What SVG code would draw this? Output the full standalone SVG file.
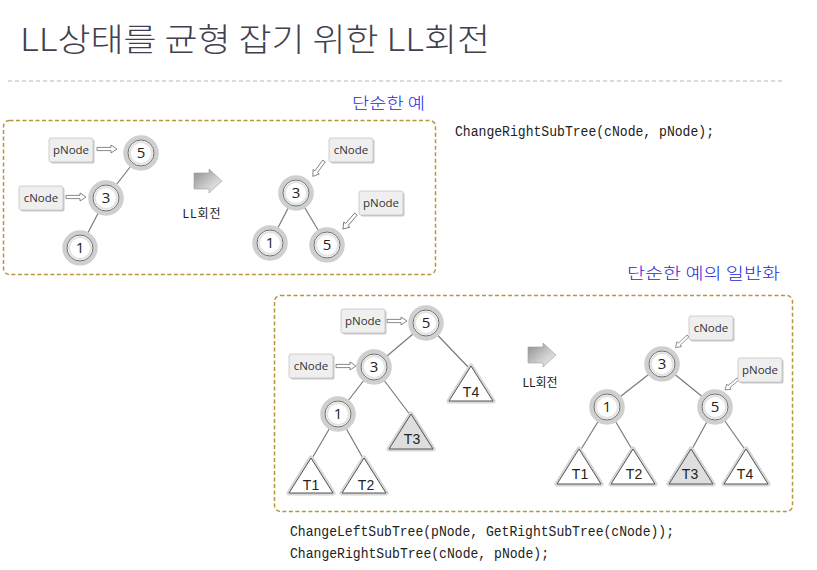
<svg xmlns="http://www.w3.org/2000/svg" xmlns:xlink="http://www.w3.org/1999/xlink" width="817" height="570" viewBox="0 0 817 570">
<style>
.title{font-family:"Noto Sans CJK KR","Noto Sans",sans-serif;font-size:32px;fill:#40404e;font-weight:300}
.blue{font-family:"Noto Sans CJK KR",sans-serif;font-size:16px;fill:#2a2ad8;font-weight:300}
.code{font-family:"Liberation Mono","DejaVu Sans Mono",monospace;font-size:14px;fill:#222}
.frame{fill:none;stroke:#b8963a;stroke-width:1.5;stroke-dasharray:4 2.5}
.edge{stroke:#7a7a7a;stroke-width:1.2;fill:none}
.halo{fill:#fff;stroke:#cfcfcf;stroke-width:4.5}
.nd{fill:#fff;stroke:#6e6e6e;stroke-width:1}
.ndi{fill:none;stroke:#e3e3e3;stroke-width:2}
.nt{font-family:"Open Sans","Liberation Sans",sans-serif;font-size:15px;fill:#222;text-anchor:middle}
.lt{font-family:"Open Sans","Liberation Sans",sans-serif;font-size:11.5px;fill:#333;text-anchor:middle}
.tt{font-family:"Liberation Sans",Arial,sans-serif;font-size:14px;fill:#222;text-anchor:middle}
.rt{font-family:"Noto Sans CJK KR",sans-serif;font-size:12px;fill:#222;text-anchor:middle}
.arr{fill:#fff;stroke:#6a6a6a;stroke-width:0.8;stroke-linejoin:miter}
.thalo{fill:none;stroke:#d6d6d6;stroke-width:5;stroke-linejoin:round}
.tri{fill:#fff;stroke:#555;stroke-width:1;stroke-linejoin:round}
.trig{fill:#dedede;stroke:#555;stroke-width:1;stroke-linejoin:round}
</style>
<defs>
<g id="circ">
<circle r="15.5" class="halo"/>
<circle r="13" class="nd"/>
<circle r="11" class="ndi"/>
</g>
<g id="lbl">
<rect x="-20.5" y="-10.5" width="44" height="24" rx="2" fill="#c8c8c8"/>
<rect x="-22" y="-12" width="44" height="24" rx="2" fill="#efefef" stroke="#c4c4c4" stroke-width="0.8"/>
</g>
<path id="dar" class="arr" d="M0,-1.6 L14,-1.6 L14,-4 L20,0 L14,4 L14,1.6 L0,1.6 Z"/>
<path id="tshape" d="M0,-18 L22,17 L-22,17 Z"/>
<linearGradient id="bg" x1="0" y1="0" x2="1" y2="1">
<stop offset="0" stop-color="#8c8c8c"/>
<stop offset="0.6" stop-color="#d0d0d0"/>
<stop offset="1" stop-color="#f0f0f0"/>
</linearGradient>
<path id="block" d="M0,-8 L15,-8 L15,-12 L28,0 L15,12 L15,8 L0,8 Z" fill="url(#bg)" stroke="#9a9a9a" stroke-width="0.6"/>
</defs>

<rect width="817" height="570" fill="#fff"/>

<g id="title">
<text class="title" x="20" y="51" textLength="470" lengthAdjust="spacingAndGlyphs">LL상태를 균형 잡기 위한 LL회전</text>
<line x1="8" y1="81" x2="782" y2="81" stroke="#a8b8c8" stroke-width="1" stroke-dasharray="4 3"/>
</g>

<g id="caption1"><text class="blue" x="352" y="109" textLength="73" lengthAdjust="spacingAndGlyphs">단순한 예</text></g>
<g id="caption2"><text class="blue" x="627" y="279" textLength="153" lengthAdjust="spacingAndGlyphs">단순한 예의 일반화</text></g>

<g id="code1"><text class="code" x="455" y="136" textLength="259" lengthAdjust="spacingAndGlyphs">ChangeRightSubTree(cNode, pNode);</text></g>
<g id="code2">
<text class="code" x="290" y="536" textLength="384" lengthAdjust="spacingAndGlyphs">ChangeLeftSubTree(pNode, GetRightSubTree(cNode));</text>
<text class="code" x="290" y="558" textLength="259" lengthAdjust="spacingAndGlyphs">ChangeRightSubTree(cNode, pNode);</text>
</g>

<g id="frame1"><rect class="frame" x="3.5" y="120.5" width="432" height="154" rx="6"/></g>
<g id="frame2"><rect class="frame" x="274.5" y="295.5" width="518" height="216" rx="6"/></g>

<g id="connectors">
<line class="edge" x1="141" y1="153" x2="106" y2="198"/>
<line class="edge" x1="106" y1="198" x2="80" y2="248"/>
<line class="edge" x1="296" y1="193" x2="270" y2="243"/>
<line class="edge" x1="296" y1="193" x2="327" y2="245"/>
<line class="edge" x1="426" y1="323" x2="374" y2="367"/>
<line class="edge" x1="426" y1="323" x2="469" y2="368"/>
<line class="edge" x1="374" y1="367" x2="338" y2="414"/>
<line class="edge" x1="374" y1="367" x2="411" y2="416"/>
<line class="edge" x1="338" y1="414" x2="311" y2="460"/>
<line class="edge" x1="338" y1="414" x2="364" y2="460"/>
<line class="edge" x1="662" y1="364" x2="607" y2="407"/>
<line class="edge" x1="662" y1="364" x2="715" y2="407"/>
<line class="edge" x1="607" y1="407" x2="580" y2="451"/>
<line class="edge" x1="607" y1="407" x2="633" y2="451"/>
<line class="edge" x1="715" y1="407" x2="691" y2="451"/>
<line class="edge" x1="715" y1="407" x2="746" y2="451"/>
<use href="#dar" transform="translate(97,149)"/>
<use href="#dar" transform="translate(66,197)"/>
<use href="#dar" transform="translate(324,161) rotate(126) scale(0.95)"/>
<use href="#dar" transform="translate(356,214) rotate(131)"/>
<use href="#dar" transform="translate(387,321)"/>
<use href="#dar" transform="translate(336,366)"/>
<use href="#dar" transform="translate(688,336) rotate(137) scale(0.85)"/>
<use href="#dar" transform="translate(738,379) rotate(140) scale(0.85)"/>
</g>

<g id="rot1"><use href="#block" x="194" y="181"/><text class="rt" x="202" y="218" letter-spacing="1">LL회전</text></g>
<g id="rot2"><use href="#block" x="528" y="355"/><text class="rt" x="540" y="387">LL회전</text></g>

<!-- box 1 left -->
<g id="a_pNode"><use href="#lbl" x="71" y="150"/><text class="lt" x="71" y="154">pNode</text></g>
<g id="a_cNode"><use href="#lbl" x="41" y="198"/><text class="lt" x="41" y="202">cNode</text></g>
<g id="a_n5"><use href="#circ" x="141" y="153"/><text class="nt" x="141" y="158">5</text></g>
<g id="a_n3"><use href="#circ" x="106" y="198"/><text class="nt" x="106" y="203">3</text></g>
<g id="a_n1"><use href="#circ" x="80" y="248"/><text class="nt" x="80" y="253">1</text></g>

<!-- box 1 right -->
<g id="b_cNode"><use href="#lbl" x="351" y="150"/><text class="lt" x="351" y="154">cNode</text></g>
<g id="b_pNode"><use href="#lbl" x="381" y="203"/><text class="lt" x="381" y="207">pNode</text></g>
<g id="b_n3"><use href="#circ" x="296" y="193"/><text class="nt" x="296" y="198">3</text></g>
<g id="b_n1"><use href="#circ" x="270" y="243"/><text class="nt" x="270" y="248">1</text></g>
<g id="b_n5"><use href="#circ" x="327" y="245"/><text class="nt" x="327" y="250">5</text></g>

<!-- box 2 left -->
<g id="c_pNode"><use href="#lbl" x="363" y="321"/><text class="lt" x="363" y="325">pNode</text></g>
<g id="c_cNode"><use href="#lbl" x="311" y="366"/><text class="lt" x="311" y="370">cNode</text></g>
<g id="c_n5"><use href="#circ" x="426" y="323"/><text class="nt" x="426" y="328">5</text></g>
<g id="c_n3"><use href="#circ" x="374" y="367"/><text class="nt" x="374" y="372">3</text></g>
<g id="c_n1"><use href="#circ" x="338" y="414"/><text class="nt" x="338" y="419">1</text></g>
<g id="c_T4"><use href="#tshape" x="471" y="384" class="thalo"/><use href="#tshape" x="471" y="384" class="tri"/><text class="tt" x="471" y="397">T4</text></g>
<g id="c_T3"><use href="#tshape" x="411" y="432" class="thalo"/><use href="#tshape" x="411" y="432" class="trig"/><text class="tt" x="412" y="444">T3</text></g>
<g id="c_T1"><use href="#tshape" x="311" y="476" class="thalo"/><use href="#tshape" x="311" y="476" class="tri"/><text class="tt" x="311" y="490">T1</text></g>
<g id="c_T2"><use href="#tshape" x="364" y="476" class="thalo"/><use href="#tshape" x="364" y="476" class="tri"/><text class="tt" x="366" y="490">T2</text></g>

<!-- box 2 right -->
<g id="d_cNode"><use href="#lbl" x="711" y="328"/><text class="lt" x="711" y="332">cNode</text></g>
<g id="d_pNode"><use href="#lbl" x="760" y="370"/><text class="lt" x="760" y="374">pNode</text></g>
<g id="d_n3"><use href="#circ" x="662" y="364"/><text class="nt" x="662" y="369">3</text></g>
<g id="d_n1"><use href="#circ" x="607" y="407"/><text class="nt" x="607" y="412">1</text></g>
<g id="d_n5"><use href="#circ" x="715" y="407"/><text class="nt" x="715" y="412">5</text></g>
<g id="d_T1"><use href="#tshape" x="579" y="467" class="thalo"/><use href="#tshape" x="579" y="467" class="tri"/><text class="tt" x="580" y="479">T1</text></g>
<g id="d_T2"><use href="#tshape" x="633" y="467" class="thalo"/><use href="#tshape" x="633" y="467" class="tri"/><text class="tt" x="634" y="479">T2</text></g>
<g id="d_T3"><use href="#tshape" x="691" y="467" class="thalo"/><use href="#tshape" x="691" y="467" class="trig"/><text class="tt" x="690" y="479">T3</text></g>
<g id="d_T4"><use href="#tshape" x="746" y="467" class="thalo"/><use href="#tshape" x="746" y="467" class="tri"/><text class="tt" x="745" y="479">T4</text></g>
</svg>
